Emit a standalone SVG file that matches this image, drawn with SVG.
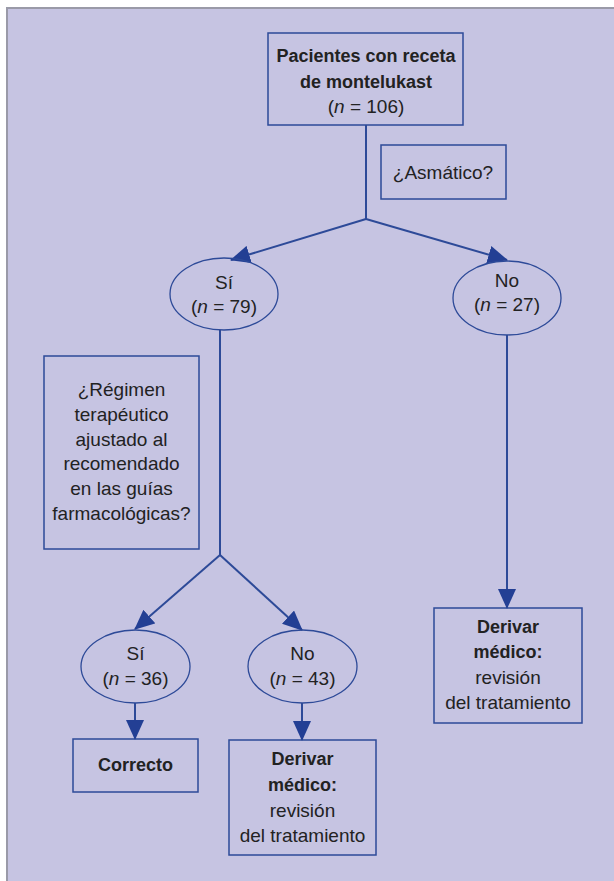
<svg xmlns="http://www.w3.org/2000/svg" width="614" height="881" viewBox="0 0 614 881">
<style>
.bg{fill:#c6c4e2}
.box{fill:none;stroke:#2d4a98;stroke-width:1.5}
.ell{fill:none;stroke:#2d4a98;stroke-width:1.3}
.ln{fill:none;stroke:#2d4a98;stroke-width:2}
text{font-family:"Liberation Sans",Arial,sans-serif;font-size:19px;fill:#222;text-anchor:middle}
.b{font-weight:bold;font-size:18px}
</style>
<defs>
<marker id="ah" markerUnits="userSpaceOnUse" markerWidth="20" markerHeight="18" refX="19" refY="9" orient="auto" viewBox="0 0 20 18">
<path d="M0,0 L20,9 L0,18 z" fill="#233f94"/>
</marker>
</defs>
<rect x="0" y="0" width="614" height="881" fill="#ffffff"/>
<rect x="6" y="7" width="608" height="874" class="bg"/>
<path d="M7,881 V8 H614" fill="none" stroke="#9a9aa8" stroke-width="2"/>
<g id="connectors">
<path class="ln" d="M366,125 V219"/>
<path class="ln" d="M366,219 L231,260" marker-end="url(#ah)"/>
<path class="ln" d="M366,219 L507,260" marker-end="url(#ah)"/>
<path class="ln" d="M220,330 V555"/>
<path class="ln" d="M220,555 L135,629" marker-end="url(#ah)"/>
<path class="ln" d="M220,555 L302,630" marker-end="url(#ah)"/>
<path class="ln" d="M135,703 V739" marker-end="url(#ah)"/>
<path class="ln" d="M302,703 V740" marker-end="url(#ah)"/>
<path class="ln" d="M507,335 V608" marker-end="url(#ah)"/>
</g>
<g id="n-root">
<rect x="268" y="33" width="195" height="92" fill="#b2afd9" class="box"/>
<text x="366" y="62" class="b">Pacientes con receta</text>
<text x="366" y="88" class="b">de montelukast</text>
<text x="366" y="113">(<tspan font-style="italic">n</tspan> = 106)</text>
</g>
<g id="q-asma">
<rect x="381" y="145" width="125" height="54" class="box"/>
<text x="443" y="179">¿Asmático?</text>
</g>
<g id="n-si79">
<ellipse cx="224" cy="294" rx="54" ry="36" class="ell"/>
<text x="224" y="289">Sí</text>
<text x="224" y="313">(<tspan font-style="italic">n</tspan> = 79)</text>
</g>
<g id="n-no27">
<ellipse cx="507" cy="298" rx="54" ry="37" class="ell"/>
<text x="507" y="287">No</text>
<text x="507" y="311">(<tspan font-style="italic">n</tspan> = 27)</text>
</g>
<g id="q-regimen">
<rect x="44" y="356" width="155" height="193" class="box"/>
<text x="121.5" y="396">¿Régimen</text>
<text x="121.5" y="421">terapéutico</text>
<text x="121.5" y="446">ajustado al</text>
<text x="121.5" y="470">recomendado</text>
<text x="121.5" y="495">en las guías</text>
<text x="121.5" y="520">farmacológicas?</text>
</g>
<g id="n-si36">
<ellipse cx="135.5" cy="666.5" rx="54.5" ry="36.5" class="ell"/>
<text x="135.5" y="660">Sí</text>
<text x="135.5" y="685">(<tspan font-style="italic">n</tspan> = 36)</text>
</g>
<g id="n-no43">
<ellipse cx="302.5" cy="666.5" rx="54.5" ry="36.5" class="ell"/>
<text x="302.5" y="660">No</text>
<text x="302.5" y="685">(<tspan font-style="italic">n</tspan> = 43)</text>
</g>
<g id="n-correcto">
<rect x="73" y="739" width="125" height="53" class="box"/>
<text x="135.5" y="771" class="b">Correcto</text>
</g>
<g id="n-derivar1">
<rect x="229" y="740" width="147" height="115" class="box"/>
<text x="302.5" y="765" class="b">Derivar</text>
<text x="302.5" y="791" class="b">médico:</text>
<text x="302.5" y="817">revisión</text>
<text x="302.5" y="842">del tratamiento</text>
</g>
<g id="n-derivar2">
<rect x="434" y="608" width="148" height="115" class="box"/>
<text x="508" y="633" class="b">Derivar</text>
<text x="508" y="658" class="b">médico:</text>
<text x="508" y="684">revisión</text>
<text x="508" y="709">del tratamiento</text>
</g>
</svg>
